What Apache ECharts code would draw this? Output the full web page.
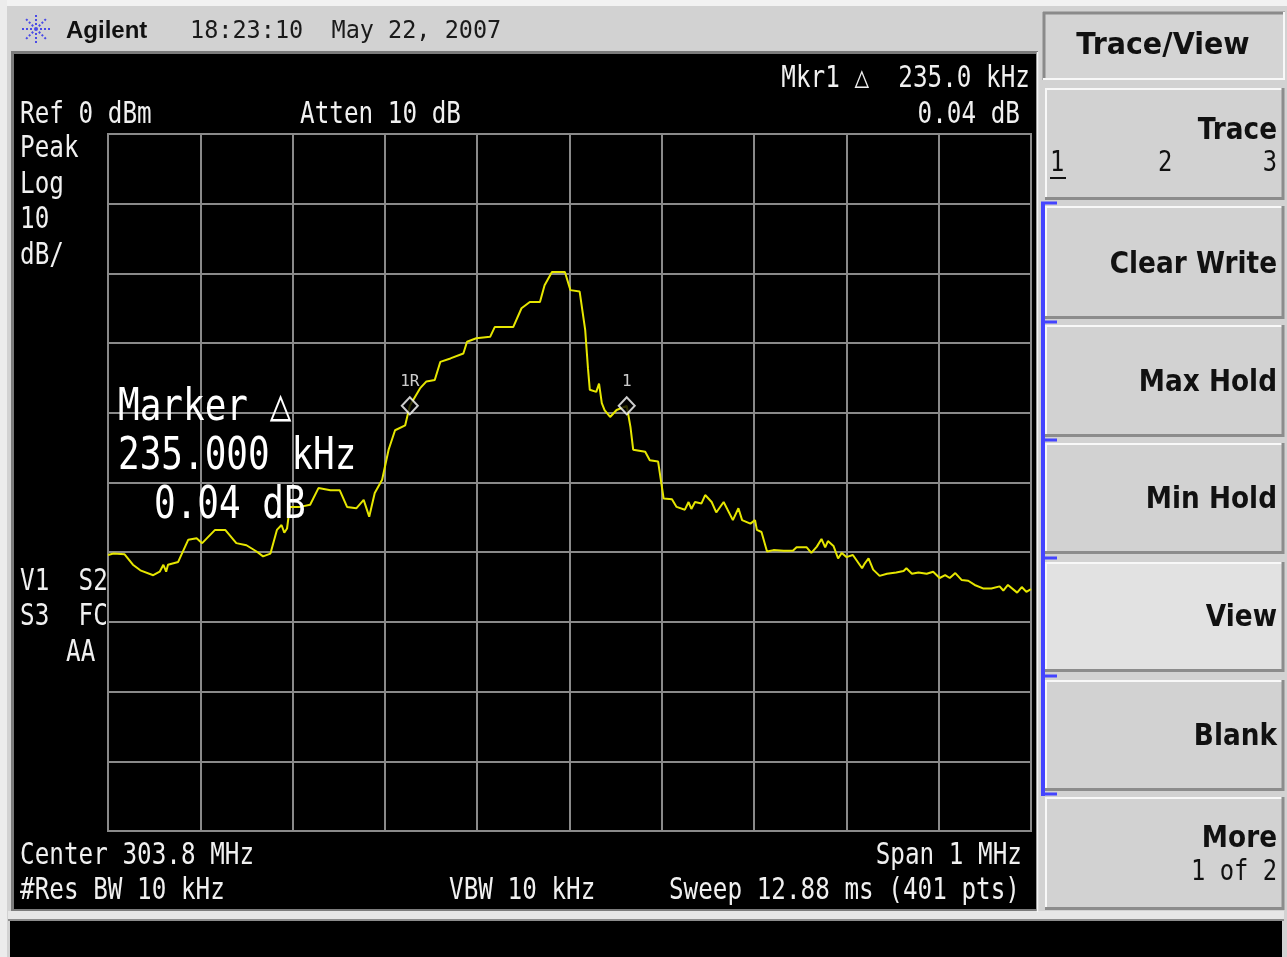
<!DOCTYPE html>
<html>
<head>
<meta charset="utf-8">
<script src="https://cdn.jsdelivr.net/npm/echarts@6/dist/echarts.min.js"></script>
<style>
html,body{margin:0;padding:0;background:#d2d2d2;}
#chart{width:1287px;height:957px;}
</style>
</head>
<body>
<div id="chart"></div>
<script>
// ---- Data (frequency in kHz, level in dBm) ----
const freqKHz = [
303300,303306,303318,303327,303335,303349,303356,303360,303363,303365,
303376,303387,303396,303402,303416,303427,303439,303450,303461,303468,
303476,303483,303488,303491,303494,303497,303508,303519,303528,303541,
303551,303559,303569,303577,303583,303589,303597,303604,303611,303622,
303627,303638,303645,303654,303660,303671,303685,303689,303699,303714,
303719,303739,303748,303757,303768,303773,303781,303795,303801,303811,
303817,303820,303822,303829,303832,303835,303838,303844,303851,303862,
303866,303869,303882,303887,303896,303902,303911,303916,303925,303929,
303932,303936,303943,303947,303954,303959,303967,303977,303983,303987,
303996,304001,304003,304008,304014,304021,304032,304042,304046,304057,
304062,304068,304073,304077,304080,304086,304091,304095,304100,304107,
304117,304120,304124,304129,304136,304144,304154,304162,304165,304171,
304178,304187,304194,304201,304207,304212,304218,304225,304232,304239,
304248,304257,304266,304270,304275,304285,304290,304295,304300
];
const levelDBm = [
-60.4,-60.2,-60.3,-61.8,-62.6,-63.3,-62.8,-61.8,-62.8,-61.8,
-61.4,-58.2,-58.0,-58.7,-56.8,-56.8,-58.7,-59.0,-59.9,-60.6,
-60.2,-56.8,-56.1,-57.2,-56.6,-53.5,-53.5,-53.2,-50.8,-51.1,
-51.1,-53.5,-53.7,-52.5,-54.9,-51.5,-49.6,-45.3,-42.5,-41.8,
-39.0,-36.5,-35.5,-35.3,-32.7,-32.2,-31.5,-29.8,-29.3,-29.1,
-27.7,-27.7,-25.0,-24.1,-24.1,-21.7,-19.8,-19.8,-22.4,-22.6,
-28.1,-33.6,-36.7,-37.0,-35.8,-38.6,-39.6,-40.6,-39.6,-39.0,
-42.0,-45.3,-45.6,-46.8,-47.0,-52.3,-52.4,-53.5,-53.9,-52.8,
-53.8,-52.8,-53.0,-51.8,-52.8,-54.3,-52.8,-55.4,-53.7,-55.4,
-55.9,-55.4,-56.8,-57.1,-59.9,-59.7,-59.8,-59.8,-59.3,-59.3,
-60.1,-59.2,-58.1,-59.3,-58.4,-59.1,-60.9,-60.1,-60.7,-60.4,
-62.3,-61.6,-60.9,-62.5,-63.4,-63.1,-62.9,-62.7,-62.3,-63.1,
-62.9,-63.1,-62.8,-63.7,-63.3,-63.7,-63.0,-64.0,-64.1,-64.7,
-65.2,-65.2,-64.9,-65.5,-64.7,-65.8,-65.0,-65.7,-65.3
];
const markerFreqKHz = [303627, 303862];
const markerLevelDBm = [-39.0, -39.0];
const markerNames = ['1R', '1'];

const xTickMinKHz = 303300, xTickMaxKHz = 304300, xTickStepKHz = 100;
const yTickMin = -100, yTickMax = 0, yTickStep = 10;

const headerTexts = ['Agilent', '18:23:10  May 22, 2007'];
const screenLeftTexts = ['Ref 0 dBm', 'Peak', 'Log', '10', 'dB/'];
const statusTexts = ['V1  S2', 'S3  FC', 'AA'];
const softkeys = ['Trace/View', 'Trace', 'Clear Write', 'Max Hold', 'Min Hold', 'View', 'Blank', 'More'];

// ---- Helpers for the instrument chrome ----
const MONO = 'DejaVu Sans Mono';
const SANS = 'DejaVu Sans';
function T(text, x, y, o) {
  o = o || {};
  const al = o.align || 'left';
  return {
    type: 'text', x: x, y: y, scaleX: o.sx || 1, scaleY: o.sy || 1, z: o.z || 50, silent: true,
    style: { text: text, fill: o.fill || '#f0f0f0', font: o.font || ('30px ' + MONO),
      textAlign: al, align: al, textVerticalAlign: 'middle', verticalAlign: 'middle' }
  };
}
function R(x, y, w, h, fill, z) {
  return { type: 'rect', silent: true, z: z == null ? -10 : z, shape: { x: x, y: y, width: w, height: h }, style: { fill: fill } };
}
function L(x1, y1, x2, y2, color, w, z, dash) {
  const s = { stroke: color, lineWidth: w };
  if (dash) s.lineDash = dash;
  return { type: 'line', silent: true, z: z == null ? -5 : z, shape: { x1: x1, y1: y1, x2: x2, y2: y2 }, style: s };
}
function button(y1, y2, fill) {
  return [
    R(1045, y1, 238, y2 - y1, fill, -8),
    L(1045, y1 + 1, 1283, y1 + 1, '#f8f8f8', 2, -7),
    L(1046, y1, 1046, y2, '#f8f8f8', 2, -7),
    L(1045, y2 - 1.5, 1284, y2 - 1.5, '#8c8c8c', 3, -7),
    L(1283, y1, 1283, y2, '#8c8c8c', 3, -7)
  ];
}

const g = [];
// page background pieces
g.push(R(0, 0, 1287, 6, '#f2f2f2', -20));
g.push(R(0, 0, 7, 957, '#ececec', -20));
// screen panel
g.push(R(11, 51, 1027, 861, '#7c7c7c', -12));
g.push(L(1037.5, 52, 1037.5, 912, '#f4f4f4', 1.5, -11));
g.push(R(14, 54, 1022, 855, '#000000', -10));
// bottom message bar
g.push(R(8, 911, 1276, 8, '#e6e6e6', -12));
g.push(R(8, 919, 1276, 2, '#8c8c8c', -11));
g.push(R(10, 921, 1272, 36, '#000000', -10));

// header: logo + time
const cx = 36, cy = 29;
for (let k = 0; k < 8; k++) {
  const a = k * Math.PI / 4;
  g.push(L(cx + Math.cos(a) * 4, cy + Math.sin(a) * 4, cx + Math.cos(a) * 14, cy + Math.sin(a) * 14, '#4a4ae6', 2, 5, [2, 2]));
}
g.push({ type: 'circle', silent: true, z: 5, shape: { cx: cx, cy: cy, r: 2 }, style: { fill: '#4a4ae6' } });
g.push(T(headerTexts[0], 66, 31, { font: 'bold 24px Liberation Sans', fill: '#111' }));
g.push(T(headerTexts[1], 190, 31, { font: '25px ' + MONO, fill: '#1a1a1a', sx: 0.94 }));

// screen texts (white)
const sx = 0.81;
g.push(T('Mkr1 \u25B3  235.0 kHz', 1030, 79, { align: 'right', sx: sx }));
g.push(T('0.04 dB', 1020, 115, { align: 'right', sx: sx }));
g.push(T(screenLeftTexts[0], 20, 115, { sx: sx }));
g.push(T('Atten 10 dB', 300, 115, { sx: sx }));
g.push(T(screenLeftTexts[1], 20, 149, { sx: sx }));
g.push(T(screenLeftTexts[2], 20, 185, { sx: sx }));
g.push(T(screenLeftTexts[3], 20, 220, { sx: sx }));
g.push(T(screenLeftTexts[4], 20, 256, { sx: sx }));
g.push(T(statusTexts[0], 20, 582, { sx: sx }));
g.push(T(statusTexts[1], 20, 617, { sx: sx }));
g.push(T(statusTexts[2], 66, 653, { sx: sx }));
g.push(T('Center 303.8 MHz', 20, 856, { sx: sx }));
g.push(T('Span 1 MHz', 1022, 856, { align: 'right', sx: sx }));
g.push(T('#Res BW 10 kHz', 20, 891, { sx: sx }));
g.push(T('VBW 10 kHz', 449, 891, { sx: sx }));
g.push(T('Sweep 12.88 ms (401 pts)', 1020, 891, { align: 'right', sx: sx }));
// big marker readout
const big = { font: '45px ' + MONO, sx: 0.8, fill: '#ffffff' };
g.push(T('Marker \u25B3', 118, 408, big));
g.push(T('235.000 kHz', 118, 457, big));
g.push(T('0.04 dB', 154, 506, big));

// softkey panel
g.push(R(1043, 12, 242, 68, '#d4d4d4', -8));
g.push(L(1043, 13, 1285, 13, '#8a8a8a', 3, -7));
g.push(L(1044, 12, 1044, 80, '#8a8a8a', 3, -7));
g.push(L(1043, 79, 1285, 79, '#f8f8f8', 2, -7));
g.push(L(1284, 12, 1284, 80, '#f8f8f8', 2, -7));
const btns = [[88, 200], [206, 319], [325, 437], [443, 554], [562, 672], [680, 791], [797, 910]];
btns.forEach(function (b, i) { button(b[0], b[1], i === 4 ? '#e2e2e2' : '#d2d2d2').forEach(function (e) { g.push(e); }); });
// blue bracket
g.push(L(1043, 203, 1043, 796, '#4444ff', 4, 3));
[203, 322, 440, 558, 676, 794].forEach(function (yy) { g.push(L(1041, yy, 1057, yy, '#4444ff', 3, 3)); });

const kb = { font: 'bold 31px ' + SANS, fill: '#111', sx: 0.85, align: 'right' };
const kr = { font: '28px ' + MONO, fill: '#111', sx: 0.85 };
g.push(T(softkeys[0], 1163, 46, { font: 'bold 31px ' + SANS, fill: '#111', sx: 0.92, align: 'center' }));
g.push(T(softkeys[1], 1277, 131, kb));
g.push(T('1', 1050, 164, kr));
g.push(L(1050, 178, 1066, 178, '#111', 2, 5));
g.push(T('2', 1158, 164, kr));
g.push(T('3', 1277, 164, Object.assign({}, kr, { align: 'right' })));
g.push(T(softkeys[2], 1277, 265, kb));
g.push(T(softkeys[3], 1277, 383, kb));
g.push(T(softkeys[4], 1277, 500, kb));
g.push(T(softkeys[5], 1277, 618, kb));
g.push(T(softkeys[6], 1277, 737, kb));
g.push(T(softkeys[7], 1277, 839, kb));
g.push(T('1 of 2', 1277, 873, Object.assign({}, kr, { align: 'right' })));

const chart = echarts.init(document.getElementById('chart'), null, { renderer: 'canvas' });
chart.setOption({
  animation: false,
  backgroundColor: '#d2d2d2',
  grid: { left: 108, top: 134, width: 923, height: 697, show: true, backgroundColor: 'transparent', borderColor: '#8a8a8a', borderWidth: 2 },
  xAxis: {
    type: 'value', min: xTickMinKHz, max: xTickMaxKHz, interval: xTickStepKHz,
    axisLabel: { show: false }, axisTick: { show: false }, axisLine: { show: false },
    splitLine: { show: true, lineStyle: { color: '#8a8a8a', width: 2 } }
  },
  yAxis: {
    type: 'value', min: yTickMin, max: yTickMax, interval: yTickStep,
    axisLabel: { show: false }, axisTick: { show: false }, axisLine: { show: false },
    splitLine: { show: true, lineStyle: { color: '#8a8a8a', width: 2 } }
  },
  graphic: { elements: g },
  series: [
    {
      type: 'line', name: 'Trace 1', silent: true, showSymbol: false, z: 3,
      data: freqKHz.map(function (f, i) { return [f, levelDBm[i]]; }),
      lineStyle: { color: '#e6e600', width: 2 }
    },
    {
      type: 'scatter', name: 'Markers', silent: true, z: 4,
      symbol: 'diamond', symbolSize: [16, 17],
      data: markerFreqKHz.map(function (f, i) { return { value: [f, markerLevelDBm[i]], name: markerNames[i] }; }),
      itemStyle: { color: '#000000', borderColor: '#ffffff', borderWidth: 2 },
      label: { show: true, position: 'top', distance: 6, formatter: '{b}', color: '#ffffff', fontFamily: MONO, fontSize: 16 }
    }
  ]
});
</script>
</body>
</html>
